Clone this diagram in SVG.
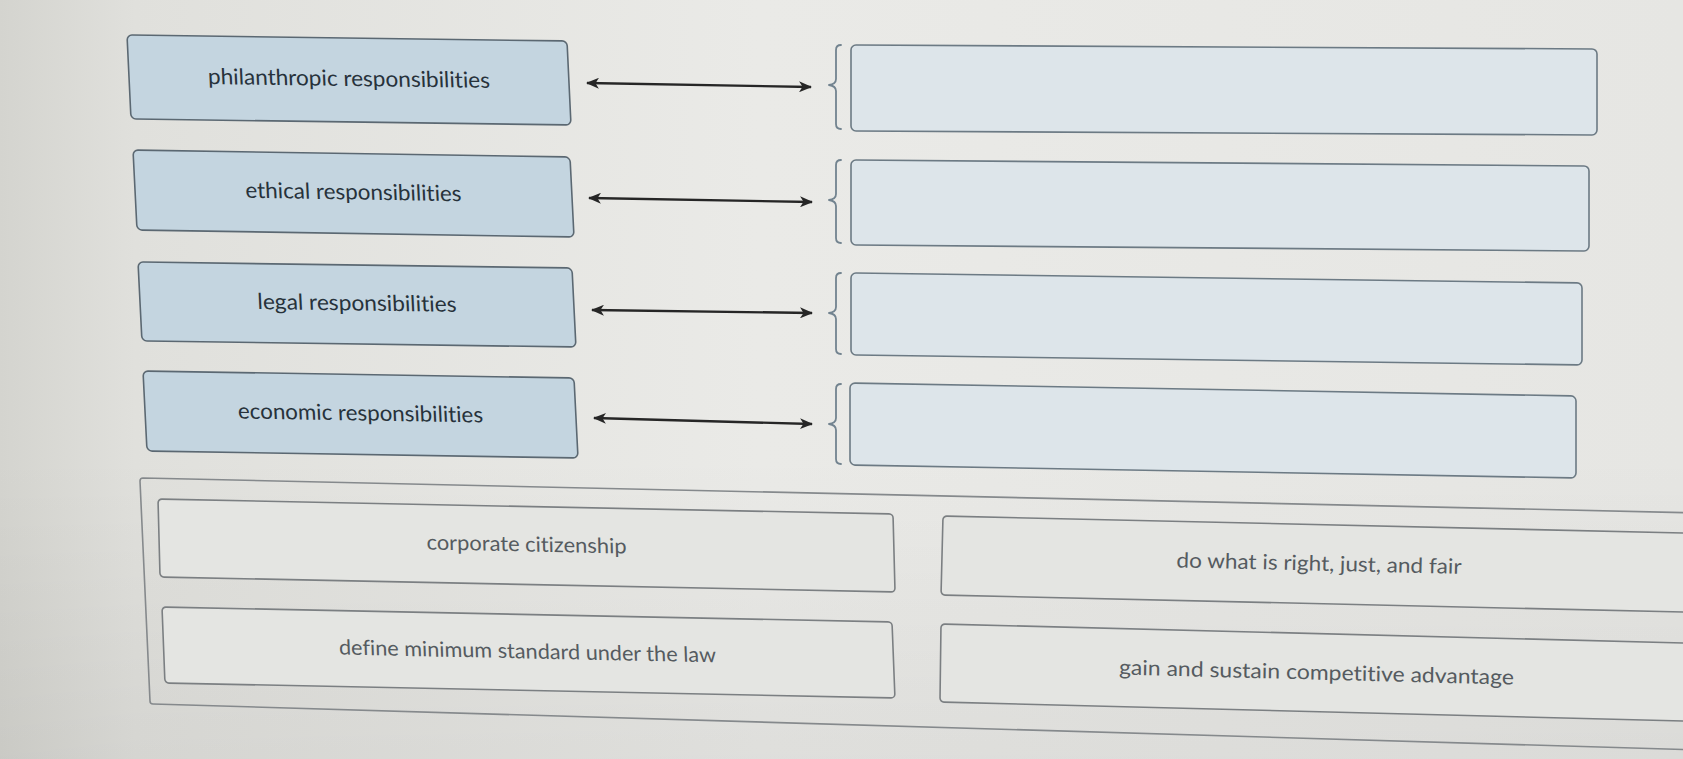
<svg xmlns="http://www.w3.org/2000/svg" width="1683" height="759" viewBox="0 0 1683 759">
<defs>
<linearGradient id="bg" x1="0" y1="0" x2="1" y2="0">
<stop offset="0" stop-color="#d4d4cf"/>
<stop offset="0.08" stop-color="#e0e0dc"/>
<stop offset="0.45" stop-color="#eaeae7"/>
<stop offset="1" stop-color="#e6e6e3"/>
</linearGradient>
<linearGradient id="shade" x1="0" y1="0" x2="0" y2="1">
<stop offset="0" stop-color="#000" stop-opacity="0"/>
<stop offset="0.6" stop-color="#000" stop-opacity="0"/>
<stop offset="1" stop-color="#000" stop-opacity="0.05"/>
</linearGradient>
<marker id="ah" viewBox="0 0 13 11" refX="12" refY="5.5" markerWidth="13" markerHeight="11" markerUnits="userSpaceOnUse" orient="auto-start-reverse">
<path d="M0,0 L13,5.5 L0,11 L3.5,5.5 z" fill="#262626"/>
</marker>
<style>
text{font-variant-ligatures:none;font-feature-settings:"liga" 0,"clig" 0}
.lbox{fill:#c4d5e0;stroke:#5b6872;stroke-width:1.6}
.ltxt{font-family:Lato,'Liberation Sans',sans-serif;font-size:22px;fill:#27323b;text-anchor:middle}
.rbox{fill:#dde5ea;stroke:#6c7a84;stroke-width:1.6}
.brace{fill:none;stroke:#72838f;stroke-width:1.8;stroke-linecap:round;stroke-linejoin:round}
.bbox{fill:#e4e5e2;stroke:#7b7f82;stroke-width:1.6}
.btxt{font-family:Lato,'Liberation Sans',sans-serif;font-size:21px;fill:#555b60;text-anchor:middle}
.cont{fill:none;stroke:#85898c;stroke-width:1.6}
.conn{stroke:#262626;stroke-width:2.4;fill:none;marker-start:url(#ah);marker-end:url(#ah)}
</style>
</defs>
<rect x="0" y="0" width="1683" height="759" fill="url(#bg)"/>
<rect x="0" y="0" width="1683" height="759" fill="url(#shade)"/>

<g id="left-philanthropic" transform="matrix(1 0.0136 0.0476 1 127 35)">
<rect class="lbox" x="0" y="0" width="440" height="84" rx="5"/>
<text class="ltxt" x="220" y="48" textLength="282" lengthAdjust="spacingAndGlyphs">philanthropic responsibilities</text>
</g>
<g id="left-ethical" transform="matrix(1 0.016 0.05 1 133 150)">
<rect class="lbox" x="0" y="0" width="437" height="80" rx="5"/>
<text class="ltxt" x="218.5" y="46" textLength="216" lengthAdjust="spacingAndGlyphs">ethical responsibilities</text>
</g>
<g id="left-legal" transform="matrix(1 0.0138 0.05 1 138 262)">
<rect class="lbox" x="0" y="0" width="434" height="79" rx="5"/>
<text class="ltxt" x="217" y="45.5" textLength="199" lengthAdjust="spacingAndGlyphs">legal responsibilities</text>
</g>
<g id="left-economic" transform="matrix(1 0.0162 0.05 1 143 371)">
<rect class="lbox" x="0" y="0" width="431" height="80" rx="5"/>
<text class="ltxt" x="215.5" y="46" textLength="245" lengthAdjust="spacingAndGlyphs">economic responsibilities</text>
</g>

<g id="connectors">
<line class="conn" x1="587" y1="83" x2="811" y2="87"/>
<line class="conn" x1="589" y1="198" x2="812" y2="202"/>
<line class="conn" x1="592" y1="310" x2="812" y2="313"/>
<line class="conn" x1="594" y1="418" x2="812" y2="424"/>
</g>

<g id="right-slot-1">
<path class="brace" d="M841,45 Q836,45 836,50 L836,79 Q836,84 829,85 Q836,86 836,91 L836,124 Q836,129 841,129"/>
<g transform="matrix(1 0.0053 0 1 851 45)"><rect class="rbox" x="0" y="0" width="746" height="86" rx="5"/></g>
</g>
<g id="right-slot-2">
<path class="brace" d="M841,160 Q836,160 836,165 L836,194 Q836,199 829,200 Q836,201 836,206 L836,238 Q836,243 841,243"/>
<g transform="matrix(1 0.0081 0 1 851 160)"><rect class="rbox" x="0" y="0" width="738" height="85" rx="5"/></g>
</g>
<g id="right-slot-3">
<path class="brace" d="M841,273 Q836,273 836,278 L836,307 Q836,312 829,313 Q836,314 836,319 L836,349 Q836,354 841,354"/>
<g transform="matrix(1 0.0136 0 1 851 273)"><rect class="rbox" x="0" y="0" width="731" height="82" rx="5"/></g>
</g>
<g id="right-slot-4">
<path class="brace" d="M841,384 Q836,384 836,389 L836,418 Q836,423 829,424 Q836,425 836,430 L836,459 Q836,464 841,464"/>
<g transform="matrix(1 0.0179 0 1 850 383)"><rect class="rbox" x="0" y="0" width="726" height="82" rx="5"/></g>
</g>

<g id="answer-bank">
<path class="cont" d="M1700,513 L143,478 Q140,478 140,481 L150,701 Q150,704 153,704 L1700,750"/>
</g>
<g id="opt-corporate" transform="matrix(1 0.0204 0.026 1 158 499)">
<rect class="bbox" x="0" y="0" width="735" height="78" rx="4"/>
<text class="btxt" x="367.5" y="45" textLength="200" lengthAdjust="spacingAndGlyphs">corporate citizenship</text>
</g>
<g id="opt-define" transform="matrix(1 0.0205 0.039 1 162 607)">
<rect class="bbox" x="0" y="0" width="730" height="76" rx="4"/>
<text class="btxt" x="364" y="44" textLength="377" lengthAdjust="spacingAndGlyphs">define minimum standard under the law</text>
</g>
<g id="opt-dowhat" transform="matrix(1 0.023 -0.025 1 943 516)">
<rect class="bbox" x="0" y="0" width="800" height="79" rx="4"/>
<text class="btxt" x="377" y="46" textLength="285" lengthAdjust="spacingAndGlyphs">do what is right, just, and fair</text>
</g>
<g id="opt-gain" transform="matrix(1 0.0256 -0.013 1 941 624)">
<rect class="bbox" x="0" y="0" width="800" height="78" rx="4"/>
<text class="btxt" x="376" y="46" textLength="395" lengthAdjust="spacingAndGlyphs">gain and sustain competitive advantage</text>
</g>
</svg>
